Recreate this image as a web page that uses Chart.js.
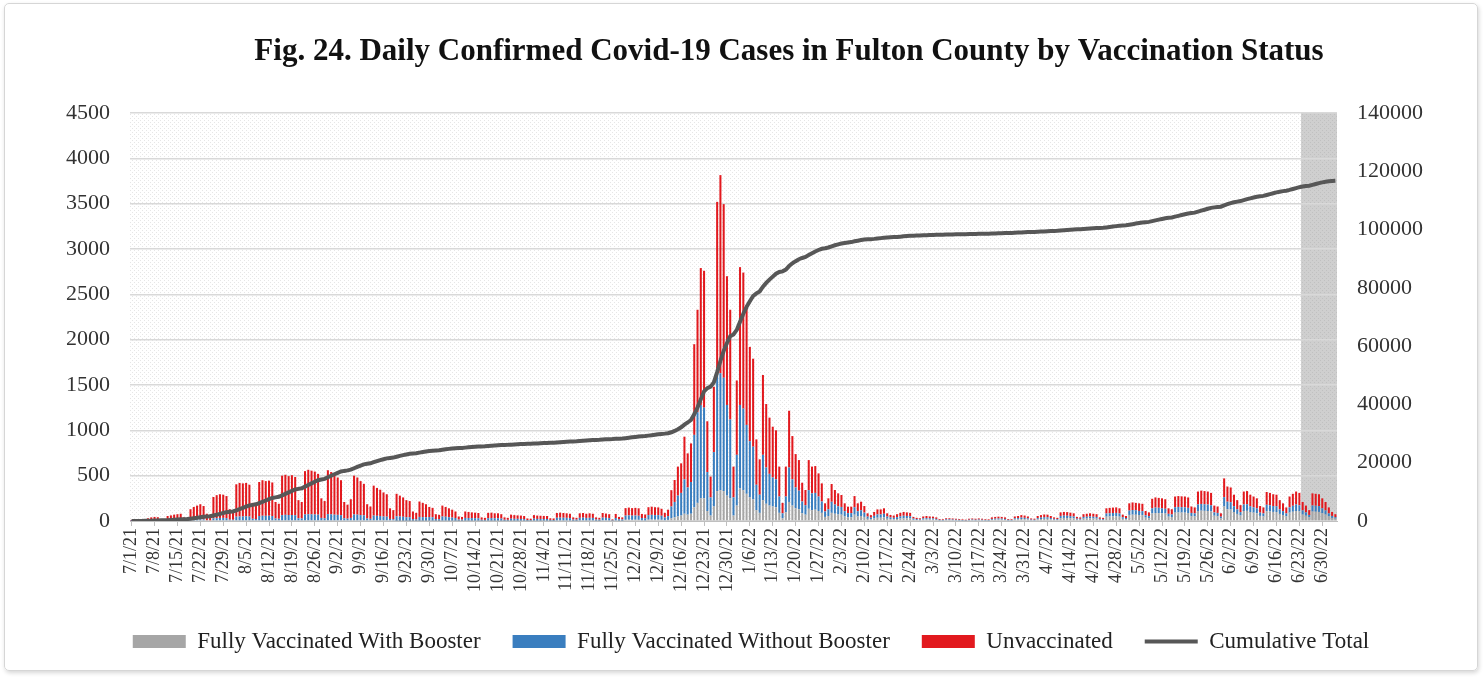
<!DOCTYPE html>
<html><head><meta charset="utf-8">
<script src="https://cdn.jsdelivr.net/npm/chart.js@4.4.1/dist/chart.umd.min.js"></script>
<style>
html,body{margin:0;padding:0;background:#fff;}
#wrap{position:relative;width:1484px;height:679px;overflow:hidden;}
#card{position:absolute;left:4px;top:3px;width:1472px;height:666px;border:1px solid #d6d6d6;border-radius:5px;box-shadow:1px 2px 4px rgba(0,0,0,0.16);pointer-events:none;}
canvas{position:absolute;left:0;top:0;}
</style></head><body>
<div id="wrap"><canvas id="c" width="1484" height="679"></canvas><div id="card"></div></div>
<script>
const titleText = 'Fig. 24. Daily Confirmed Covid-19 Cases in Fulton County by Vaccination Status';
const startDate = '2021-07-01';
const shadeStart = '6/24/22';
const tickLabels = ['7/1/21','7/8/21','7/15/21','7/22/21','7/29/21','8/5/21','8/12/21','8/19/21','8/26/21','9/2/21','9/9/21','9/16/21','9/23/21','9/30/21','10/7/21','10/14/21','10/21/21','10/28/21','11/4/21','11/11/21','11/18/21','11/25/21','12/2/21','12/9/21','12/16/21','12/23/21','12/30/21','1/6/22','1/13/22','1/20/22','1/27/22','2/3/22','2/10/22','2/17/22','2/24/22','3/3/22','3/10/22','3/17/22','3/24/22','3/31/22','4/7/22','4/14/22','4/21/22','4/28/22','5/5/22','5/12/22','5/19/22','5/26/22','6/2/22','6/9/22','6/16/22','6/23/22','6/30/22'];
const leftTicks = [0,500,1000,1500,2000,2500,3000,3500,4000,4500];
const rightTicks = [0,20000,40000,60000,80000,100000,120000,140000];

const booster = [
0,0,0,0,0,0,0, 0,0,0,0,0,0,0, 0,0,0,0,0,0,0, 0,0,0,0,0,0,0,
0,0,0,0,0,0,0, 0,0,0,0,0,0,0, 0,0,0,0,0,0,0, 0,0,0,0,0,0,0,
0,0,0,0,0,0,0, 0,0,0,0,0,0,0, 0,0,0,0,0,0,0, 0,0,0,0,2,2,2,
2,2,1,1,3,3,3, 4,4,2,2,5,5,4, 4,3,2,2,4,4,4, 4,4,2,2,4,4,4,
4,4,2,2,4,4,4, 4,4,2,2,5,4,4, 4,4,2,2,7,7,7, 7,6,3,3,7,8,7,
7,7,4,3,8,8,7, 2,7,4,4,13,14,13, 14,13,8,7,15,16,15, 15,13,9,12,30,40,50,
60,80,70,80,150,200,250, 250,110,60,160,330,340,330, 280,250,60,170,360,340,300,
260,240,120,90,230,190,170, 160,150,90,30,95,210,170, 140,130,85,70,135,120,125,
110,90,45,55,90,80,72, 70,50,40,40,70,50,55, 45,24,18,28,36,36,40,
25,20,18,22,27,30,29, 28,14,11,9,16,17,16, 16,13,7,7,10,10,9,
8,7,6,5,8,9,8, 9,8,7,6,13,15,16, 15,13,7,7,17,18,22,
20,17,9,8,18,22,24, 24,19,14,12,32,34,33, 31,29,15,14,26,27,29,
27,26,14,12,48,50,51, 52,48,24,19,67,70,69, 66,65,37,32,83,88,87,
85,82,48,44,92,94,93, 92,88,54,51,110,114,112, 110,105,58,54,29,160,129,
126,99,78,60,110,112,99, 92,85,56,51,109,105,100, 99,78,66,51,92,102,110,
105,71,58,41,104,102,100, 85,71,51,34,26];

const noBooster = [
1,2,1,0,1,3,4, 4,4,2,2,5,6,7, 7,8,4,3,13,16,18, 20,18,9,8,30,32,34,
34,32,15,14,48,50,50, 52,50,25,22,55,58,57, 58,55,28,25,65,68,66, 66,64,30,28,72,75,74,
72,70,34,30,76,74,70, 68,64,30,26,34,72,70, 65,62,28,24,60,57,55, 50,48,23,20,50,48,45,
40,40,20,17,42,40,38, 40,38,20,18,45,42,38, 34,30,14,13,30,29,28, 27,26,12,10,27,28,26,
26,23,12,11,22,20,20, 19,17,9,8,21,19,19, 18,18,10,9,29,30,29, 28,26,13,12,28,29,27,
28,27,13,12,29,27,25, 6,26,15,13,46,48,46, 47,45,25,23,50,52,50, 50,45,30,42,130,170,230,
250,380,300,350,800,1000,1030, 1000,430,200,600,1350,1290,1250, 1000,870,200,560,920,900,760,
620,580,280,200,500,400,350, 320,310,180,55,175,380,290, 230,205,130,105,205,185,185,
160,125,60,75,122,102,90, 85,58,47,47,82,58,63, 48,25,19,29,37,37,40,
24,19,17,21,25,28,27, 25,13,10,8,14,15,14, 12,10,6,5,8,8,7,
6,6,5,4,6,7,6, 7,6,5,5,10,11,12, 11,10,6,5,13,14,16,
15,12,7,6,14,16,18, 17,14,10,9,24,25,25, 23,21,11,10,19,20,21,
20,19,10,9,35,36,37, 37,35,17,14,48,51,50, 45,44,26,22,57,60,59,
55,53,31,29,60,61,60, 59,57,35,33,72,74,73, 72,68,37,35,19,103,84,
81,64,51,38,72,73,64, 59,55,36,33,70,68,65, 64,51,43,33,59,66,72,
68,46,37,26,67,66,65, 55,46,33,22,16];

const unvaccinated = [
11,12,5,5,9,27,36, 41,38,20,16,50,56,63, 68,72,36,32,117,139,152, 165,147,71,62,235,253,261,
256,243,115,106,357,370,365, 368,350,175,158,375,392,383, 387,370,182,165,435,442,429, 439,421,200,182,478,490,481,
473,450,216,190,484,466,435, 412,386,180,154,206,428,410, 375,348,157,136,330,308,290, 265,247,117,100,248,230,213,
188,178,84,72,170,157,144, 111,103,53,48,120,108,98, 87,72,34,30,71,67,63, 61,58,26,23,59,60,55,
55,48,26,22,44,41,38, 37,34,17,15,39,37,35, 34,33,18,17,52,55,52, 50,48,24,20,50,51,46,
50,46,23,20,51,47,43, 10,45,26,23,83,86,83, 84,82,45,42,87,90,87, 85,77,51,71,180,242,320,
326,470,376,426,1000,1130,1510, 1510,560,230,720,1840,2185,1915, 1420,1210,340,820,1520,1500,1320,
1040,970,500,390,880,700,620, 560,540,330,115,330,626,477, 368,337,207,167,332,295,296,
255,200,90,120,196,160,143, 132,87,71,71,123,87,95, 72,36,28,43,55,55,60,
36,27,25,32,38,42,39, 37,18,14,13,20,23,20, 20,17,9,8,12,12,12,
11,9,7,6,11,12,11, 12,11,8,7,17,19,20, 19,17,9,8,20,23,27,
25,21,12,11,23,27,30, 29,22,16,14,39,41,40, 38,35,19,16,30,33,35,
33,30,16,14,57,59,60, 61,57,29,22,80,84,81, 84,81,47,41,105,112,109,
110,105,61,57,118,120,119, 119,115,71,66,143,147,145, 143,137,75,71,37,207,167,
163,127,101,77,143,145,127, 119,110,73,66,141,137,130, 127,101,86,66,119,132,143,
137,93,75,53,134,132,130, 110,93,66,44,33];

// daily categories
const categories = [];
{
  const d0 = new Date(startDate + 'T00:00:00Z');
  for (let i = 0; i < booster.length; i++) {
    const d = new Date(d0.getTime() + i * 86400000);
    categories.push((d.getUTCMonth() + 1) + '/' + d.getUTCDate() + '/' + String(d.getUTCFullYear()).slice(2));
  }
}
// cumulative total = running sum of the daily cases
const cumulative = [];
{
  let run = 0;
  for (let i = 0; i < booster.length; i++) {
    run += booster[i] + noBooster[i] + unvaccinated[i];
    cumulative.push(run);
  }
}

const pat = document.createElement('canvas');
pat.width = 4; pat.height = 4;
{
  const pc = pat.getContext('2d');
  pc.fillStyle = '#ffffff'; pc.fillRect(0, 0, 4, 4);
  pc.fillStyle = '#e6e6e6'; pc.fillRect(0, 0, 1, 1); pc.fillRect(2, 2, 1, 1);
}

const backdrop = {
  id: 'backdrop',
  beforeDraw(chart) {
    const {ctx, chartArea: a, scales: {x}} = chart;
    ctx.save();
    ctx.fillStyle = ctx.createPattern(pat, 'repeat');
    ctx.fillRect(a.left, a.top, a.right - a.left, a.bottom - a.top);
    const idx = categories.indexOf(shadeStart);
    const half = (x.getPixelForValue(1) - x.getPixelForValue(0)) / 2;
    const sx = x.getPixelForValue(idx) - half;
    ctx.fillStyle = 'rgba(140,140,140,0.42)';
    ctx.fillRect(sx, a.top, a.right - sx, a.bottom - a.top);
    ctx.restore();
  }
};
const figTitle = {
  id: 'figTitle',
  afterDraw(chart) {
    const ctx = chart.ctx;
    ctx.save();
    ctx.font = "bold 31px 'Liberation Serif', 'DejaVu Serif', serif";
    ctx.fillStyle = '#111';
    ctx.textAlign = 'center';
    ctx.textBaseline = 'alphabetic';
    ctx.fillText(titleText, 789, 60);
    ctx.restore();
  }
};

Chart.defaults.font.family = "'Liberation Serif', 'DejaVu Serif', serif";
Chart.defaults.color = '#333';

new Chart(document.getElementById('c'), {
  data: {
    labels: categories,
    datasets: [
      {type: 'bar', label: 'Fully Vaccinated With Booster', data: booster, backgroundColor: '#a6a6a6', borderWidth: 0, order: 1, pointStyle: 'rect', barPercentage: 0.62, categoryPercentage: 1},
      {type: 'bar', label: 'Fully Vaccinated Without Booster', data: noBooster, backgroundColor: '#3a7ebf', borderWidth: 0, order: 1, pointStyle: 'rect', barPercentage: 0.62, categoryPercentage: 1},
      {type: 'bar', label: 'Unvaccinated', data: unvaccinated, backgroundColor: '#e2191e', borderWidth: 0, order: 1, pointStyle: 'rect', barPercentage: 0.62, categoryPercentage: 1},
      {type: 'line', label: 'Cumulative Total', data: cumulative, yAxisID: 'y2', borderColor: '#575757', backgroundColor: '#575757', borderWidth: 4, pointRadius: 0, pointStyle: 'line', tension: 0, order: 0}
    ]
  },
  options: {
    responsive: false,
    animation: false,
    devicePixelRatio: 1,
    layout: {padding: {top: 113, bottom: 16, left: 18, right: 0}},
    plugins: {
      title: {display: false},
      tooltip: {enabled: false},
      legend: {
        position: 'bottom',
        labels: {
          usePointStyle: true, pointStyleWidth: 53, boxHeight: 13, padding: 32,
          color: '#222', font: {size: 23},
          sort: (a, b) => a.datasetIndex - b.datasetIndex
        }
      }
    },
    scales: {
      x: {
        stacked: true,
        offset: true,
        grid: {display: true, drawOnChartArea: false, drawTicks: true, tickLength: 5, color: '#bfbfbf', offset: false},
        border: {display: true, color: '#bfbfbf', width: 1},
        ticks: {
          autoSkip: false, maxRotation: 90, minRotation: 90, padding: 2, color: '#333', font: {size: 18},
          callback(v, i) { const l = categories[i]; return tickLabels.includes(l) ? l : null; }
        },
        afterFit(s) { s.height = 77; }
      },
      y: {
        stacked: true, position: 'left', min: leftTicks[0], max: leftTicks[leftTicks.length - 1],
        afterBuildTicks(s) { s.ticks = leftTicks.map(v => ({value: v})); },
        ticks: {padding: 20, color: '#333', font: {size: 22}, callback: v => String(v)},
        grid: {color: '#d9d9d9', lineWidth: 1.5, drawTicks: false},
        border: {display: false},
        afterFit(s) { s.width = 112; }
      },
      y2: {
        position: 'right', min: rightTicks[0], max: rightTicks[rightTicks.length - 1],
        afterBuildTicks(s) { s.ticks = rightTicks.map(v => ({value: v})); },
        ticks: {padding: 20, color: '#333', font: {size: 22}, callback: v => String(v)},
        grid: {display: false, drawTicks: false},
        border: {display: false},
        afterFit(s) { s.width = 147; }
      }
    }
  },
  plugins: [backdrop, figTitle]
});
</script>
</body></html>
